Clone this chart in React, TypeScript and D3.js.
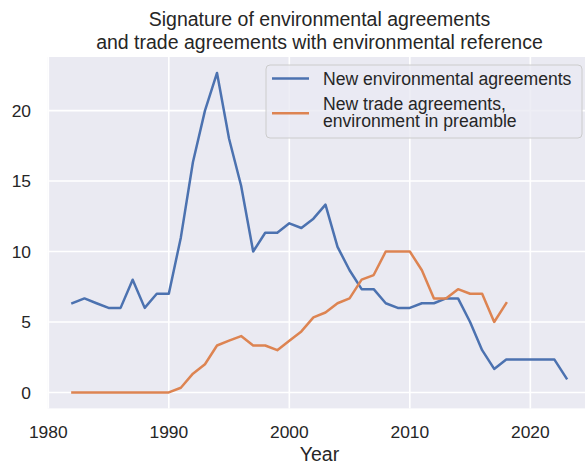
import React from "react";
import * as d3 from "d3";

const envYears = d3.range(1982, 2024);
const envValues = [
  6.33, 6.67, 6.33, 6, 6, 8, 6, 7, 7, 11, 16.33, 20, 22.67, 18, 14.67, 10,
  11.33, 11.33, 12, 11.67, 12.33, 13.33, 10.33, 8.67, 7.33, 7.33, 6.33, 6, 6,
  6.33, 6.33, 6.67, 6.67, 5, 3, 1.67, 2.33, 2.33, 2.33, 2.33, 2.33, 1,
];
const tradeYears = d3.range(1982, 2019);
const tradeValues = [
  0, 0, 0, 0, 0, 0, 0, 0, 0, 0.33, 1.33, 2, 3.33, 3.67, 4, 3.33, 3.33, 3,
  3.67, 4.33, 5.33, 5.67, 6.33, 6.67, 8, 8.33, 10, 10, 10, 8.67, 6.67, 6.67,
  7.33, 7, 7, 5, 6.33,
];
const xTicks = [1980, 1990, 2000, 2010, 2020];
const yTicks = [0, 5, 10, 15, 20];
const titleLines = [
  "Signature of environmental agreements",
  "and trade agreements with environmental reference",
];
const seriesNames = ["New environmental agreements", "New trade agreements,\nenvironment in preamble"];
const colors = ["#4C72B0", "#DD8452"];

const W = 585;
const H = 464;
const L = 47.7;
const R = 591.2;
const T = 57;
const B = 408.4;
const FONT = "Arial, 'Liberation Sans', sans-serif";
const TXT = "#262626";

export default function App() {
  const x = d3.scaleLinear().domain([1979.95, 2025.05]).range([L, R]);
  const y = d3.scaleLinear().domain([-1.1335, 23.8035]).range([B, T]);
  const line = d3
    .line<[number, number]>()
    .x((d) => x(d[0]))
    .y((d) => y(d[1]));
  const envData: [number, number][] = envYears.map((yr, i) => [yr, envValues[i]]);
  const tradeData: [number, number][] = tradeYears.map((yr, i) => [yr, tradeValues[i]]);
  const cx = (L + R) / 2;

  return (
    <svg
      width={W}
      height={H}
      style={{ position: "absolute", left: 0, top: 0, background: "#fff" }}
      fontFamily={FONT}
    >
      <defs>
        <clipPath id="plotclip">
          <rect x={L} y={T} width={R - L} height={B - T} />
        </clipPath>
      </defs>
      <rect x={L} y={T} width={R - L} height={B - T} fill="#EAEAF2" />
      {xTicks.map((t) => (
        <line key={"gx" + t} x1={x(t)} x2={x(t)} y1={T} y2={B} stroke="#fff" strokeWidth={1.6} />
      ))}
      {yTicks.map((t) => (
        <line key={"gy" + t} x1={L} x2={R} y1={y(t)} y2={y(t)} stroke="#fff" strokeWidth={1.6} />
      ))}
      <g clipPath="url(#plotclip)">
        <path d={line(envData) || ""} fill="none" stroke={colors[0]} strokeWidth={2.5} strokeLinejoin="round" strokeLinecap="square" />
        <path d={line(tradeData) || ""} fill="none" stroke={colors[1]} strokeWidth={2.5} strokeLinejoin="round" strokeLinecap="square" />
      </g>
      {xTicks.map((t) => (
        <text key={"tx" + t} x={x(t)} y={437.5} textAnchor="middle" fontSize={17.4} fill={TXT}>
          {t}
        </text>
      ))}
      {yTicks.map((t) => (
        <text key={"ty" + t} x={31} y={y(t) + 6.2} textAnchor="end" fontSize={17.4} fill={TXT}>
          {t}
        </text>
      ))}
      <text x={cx} y={461} textAnchor="middle" fontSize={19.5} fill={TXT}>
        Year
      </text>
      {titleLines.map((s, i) => (
        <text key={"t" + i} x={cx} y={26 + i * 22.5} textAnchor="middle" fontSize={19.5} fill={TXT}>
          {s}
        </text>
      ))}
      <g>
        <rect x={266} y={65} width={316} height={73} rx={4} fill="#EAEAF2" fillOpacity={0.8} stroke="#CCCCCC" strokeWidth={1} />
        <line x1={272} x2={309} y1={78.5} y2={78.5} stroke={colors[0]} strokeWidth={2.5} />
        <line x1={272} x2={309} y1={113.3} y2={113.3} stroke={colors[1]} strokeWidth={2.5} />
        <text x={323} y={85} fontSize={17.6} fill={TXT}>
          {seriesNames[0]}
        </text>
        {seriesNames[1].split("\n").map((s, i) => (
          <text key={"l" + i} x={323} y={109.5 + i * 17.5} fontSize={17.6} fill={TXT}>
            {s}
          </text>
        ))}
      </g>
    </svg>
  );
}
